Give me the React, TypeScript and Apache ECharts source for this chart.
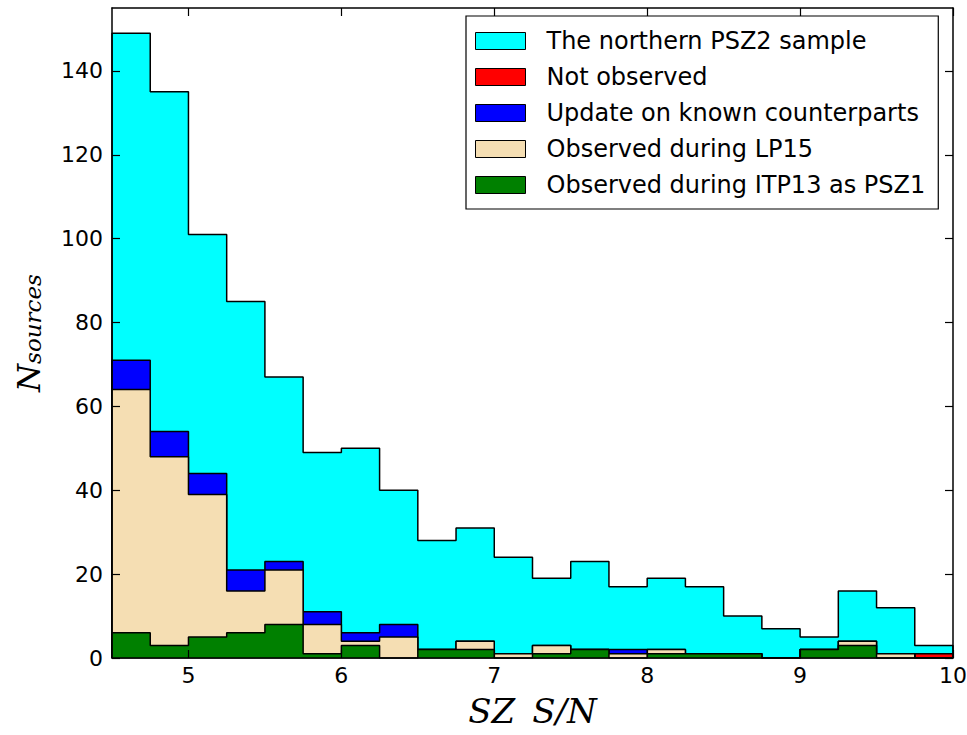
import React, { useEffect, useRef } from 'react';
import * as echarts from 'echarts';

// Bin edges of the S/N histogram
const binEdges = [4.5, 4.75, 5.0, 5.25, 5.5, 5.75, 6.0, 6.25, 6.5, 6.75, 7.0, 7.25, 7.5, 7.75, 8.0, 8.25, 8.5, 8.75, 9.0, 9.25, 9.5, 9.75, 10.0];

// Counts per bin (overlaid histograms)
const northernPSZ2 = [149, 135, 101, 85, 67, 49, 50, 40, 28, 31, 24, 19, 23, 17, 19, 17, 10, 7, 5, 16, 12, 3];
const notObserved = [0, 0, 0, 0, 0, 0, 0, 0, 0, 0, 0, 0, 0, 0, 0, 0, 0, 0, 0, 0, 0, 1];
const updateKnown = [71, 54, 44, 21, 23, 11, 6, 8, 2, 4, 1, 3, 2, 2, 2, 1, 1, 0, 2, 4, 1, 0];
const observedLP15 = [64, 48, 39, 16, 21, 8, 4, 5, 2, 4, 1, 3, 2, 1, 2, 1, 1, 0, 2, 4, 1, 0];
const observedITP13 = [6, 3, 5, 6, 8, 1, 3, 0, 2, 2, 0, 1, 2, 0, 1, 1, 1, 0, 2, 3, 0, 0];

const seriesNames = [
  'The northern PSZ2 sample',
  'Not observed',
  'Update on known counterparts',
  'Observed during LP15',
  'Observed during ITP13 as PSZ1',
];
const seriesValues = [northernPSZ2, notObserved, updateKnown, observedLP15, observedITP13];
const seriesColors = ['#00FFFF', '#FF0000', '#0000FF', '#F5DEB3', '#008000'];

const xTickValues = [5, 6, 7, 8, 9, 10];
const yTickValues = [0, 20, 40, 60, 80, 100, 120, 140];

function stepPoints(values: number[]): number[][] {
  const pts: number[][] = [[binEdges[0], 0]];
  values.forEach((v, i) => pts.push([binEdges[i], v]));
  const last = binEdges[binEdges.length - 1];
  pts.push([last, values[values.length - 1]]);
  pts.push([last, 0]);
  return pts;
}

export default function App() {
  const ref = useRef<HTMLDivElement>(null);
  useEffect(() => {
    if (!ref.current) return;
    const chart = echarts.init(ref.current, null, { renderer: 'svg' });
    const axisLineStyle = { color: '#000', width: 1.5 };
    const tickStyle = { color: '#000', width: 1.2 };
    const option: any = {
      animation: false,
      backgroundColor: '#fff',
      textStyle: { fontFamily: 'DejaVu Sans', color: '#000' },
      grid: { left: 112, right: 14, top: 8, bottom: 77, containLabel: false, outerBoundsMode: 'none' },
      legend: {
        left: 466,
        top: 16,
        orient: 'vertical',
        icon: 'rect',
        itemWidth: 50,
        itemHeight: 17,
        itemGap: 12,
        padding: [13, 13, 12, 9],
        borderColor: '#000',
        borderWidth: 1.2,
        backgroundColor: '#fff',
        selectedMode: false,
        textStyle: {
          fontSize: 24,
          fontFamily: 'DejaVu Sans',
          color: '#000',
          lineHeight: 20,
          padding: [0, 0, 0, 16],
        },
        data: seriesNames.map((n, i) => ({
          name: n,
          itemStyle: { color: seriesColors[i], borderColor: '#000', borderWidth: 1 },
        })),
      },
      xAxis: [
        {
          type: 'value',
          min: binEdges[0],
          max: binEdges[binEdges.length - 1],
          position: 'bottom',
          z: 10,
          axisLine: { show: true, onZero: false, lineStyle: axisLineStyle },
          axisTick: { show: true, inside: true, length: 8, customValues: xTickValues, lineStyle: tickStyle },
          axisLabel: {
            customValues: xTickValues,
            margin: 6,
            color: '#000',
            fontSize: 22,
            fontFamily: 'DejaVu Sans',
          },
          splitLine: { show: false },
          name: 'SZ\u2002S/N',
          nameLocation: 'middle',
          nameGap: 36,
          nameTextStyle: { fontSize: 34, fontStyle: 'italic', fontFamily: 'DejaVu Serif', color: '#000' },
        },
        {
          type: 'value',
          min: binEdges[0],
          max: binEdges[binEdges.length - 1],
          position: 'top',
          z: 10,
          axisLine: { show: true, onZero: false, lineStyle: axisLineStyle },
          axisTick: { show: true, inside: true, length: 8, customValues: xTickValues, lineStyle: tickStyle },
          axisLabel: { show: false },
          splitLine: { show: false },
        },
      ],
      yAxis: [
        {
          type: 'value',
          min: 0,
          max: 155,
          position: 'left',
          z: 10,
          axisLine: { show: true, onZero: false, lineStyle: axisLineStyle },
          axisTick: { show: true, inside: true, length: 8, customValues: yTickValues, lineStyle: tickStyle },
          axisLabel: {
            customValues: yTickValues,
            margin: 9,
            color: '#000',
            fontSize: 22,
            fontFamily: 'DejaVu Sans',
          },
          splitLine: { show: false },
          name: '{n|N}{s|sources}',
          nameLocation: 'middle',
          nameRotate: 90,
          nameGap: 67,
          nameTextStyle: {
            rich: {
              n: { fontSize: 32, fontStyle: 'italic', fontFamily: 'DejaVu Serif', color: '#000' },
              s: { fontSize: 23, fontStyle: 'italic', fontFamily: 'DejaVu Serif', color: '#000', padding: [8, 0, 0, 0] },
            },
          },
        },
        {
          type: 'value',
          min: 0,
          max: 155,
          position: 'right',
          z: 10,
          axisLine: { show: true, onZero: false, lineStyle: axisLineStyle },
          axisTick: { show: true, inside: true, length: 8, customValues: yTickValues, lineStyle: tickStyle },
          axisLabel: { show: false },
          splitLine: { show: false },
        },
      ],
      series: seriesValues.map((vals, i) => ({
        type: 'line',
        name: seriesNames[i],
        xAxisIndex: 0,
        yAxisIndex: 0,
        data: stepPoints(vals),
        step: 'end',
        symbol: 'none',
        showSymbol: false,
        silent: true,
        z: 2 + i,
        lineStyle: { color: '#000', width: 1.5 },
        itemStyle: { color: seriesColors[i] },
        areaStyle: { color: seriesColors[i], opacity: 1 },
      })),
    };
    chart.setOption(option);
    return () => chart.dispose();
  }, []);
  return (
    <div
      ref={ref}
      style={{ position: 'fixed', left: 0, top: 0, width: 967, height: 735, background: '#fff' }}
    />
  );
}
